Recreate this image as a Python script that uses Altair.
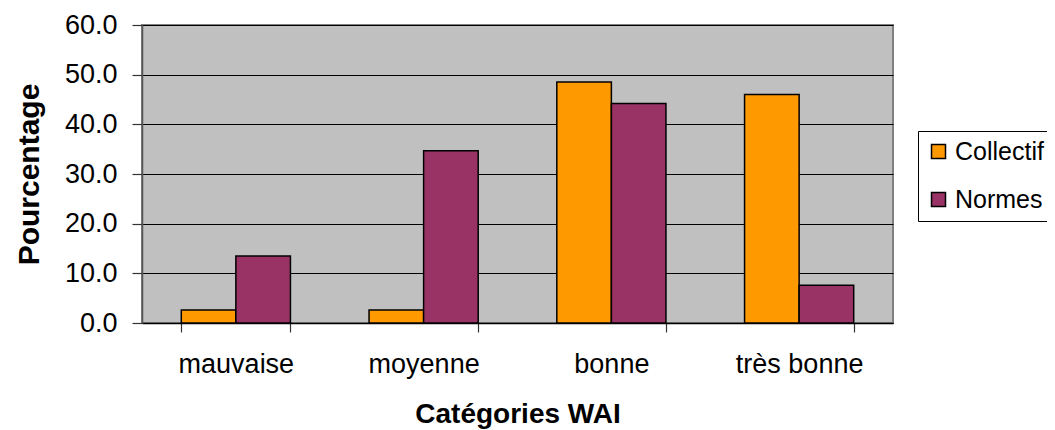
import altair as alt
import pandas as pd

categories = ["mauvaise", "moyenne", "bonne", "très bonne"]
series = ["Collectif", "Normes"]
collectif = [2.6, 2.6, 48.5, 46.0]
normes = [13.5, 34.7, 44.2, 7.6]
colors = ["#FF9900", "#993366"]

rows = []
for c, a, b in zip(categories, collectif, normes):
    rows.append({"cat": c, "serie": series[0], "val": a})
    rows.append({"cat": c, "serie": series[1], "val": b})
df = pd.DataFrame(rows)

FONT = "Liberation Sans"

chart = alt.Chart(df).mark_bar(stroke="black", strokeWidth=1.5).encode(
    x=alt.X("cat:N", sort=categories,
            scale=alt.Scale(paddingInner=0.4187, paddingOuter=0.2093),
            axis=alt.Axis(title="Catégories WAI", labelAngle=0, tickBand="extent",
                          labelFontSize=27, labelFont=FONT, labelColor="black",
                          labelPadding=19, tickSize=9, tickColor="#333", tickWidth=1.2,
                          domainColor="black", domainWidth=1.5,
                          titleFont=FONT, titleFontSize=28, titleFontWeight="bold",
                          titleColor="black", titlePadding=23)),
    xOffset=alt.XOffset("serie:N", sort=series,
                        scale=alt.Scale(paddingInner=0, paddingOuter=0)),
    y=alt.Y("val:Q", scale=alt.Scale(domain=[0, 60], nice=False),
            axis=alt.Axis(title="Pourcentage", values=[0, 10, 20, 30, 40, 50, 60],
                          format=".1f", labelFontSize=27, labelFont=FONT,
                          labelColor="black", labelPadding=15, tickSize=10,
                          tickColor="#333", tickWidth=1.2,
                          domainColor="#555", domainWidth=1.5,
                          grid=True, gridColor="black", gridWidth=1,
                          titleFont=FONT, titleFontSize=30, titleFontWeight="bold",
                          titleColor="black", titlePadding=20)),
    color=alt.Color("serie:N", sort=series,
                    scale=alt.Scale(domain=series, range=colors),
                    legend=alt.Legend(title=None, orient="none", legendX=776, legendY=106,
                                      fillColor="white", strokeColor="black",
                                      padding=8, symbolType="square", symbolSize=196,
                                      symbolStrokeColor="black", symbolStrokeWidth=1.5,
                                      labelFontSize=25, labelFont=FONT, labelColor="black",
                                      labelOffset=4, rowPadding=22)),
).properties(
    width=751, height=298,
    autosize=alt.AutoSizeParams(type="none"),
    padding={"left": 134, "top": 17, "right": 154, "bottom": 106},
).configure_view(
    fill="#C0C0C0", stroke="#808080", strokeWidth=2
)

chart.save("out.html", embed_options={"renderer": "svg", "actions": False})
